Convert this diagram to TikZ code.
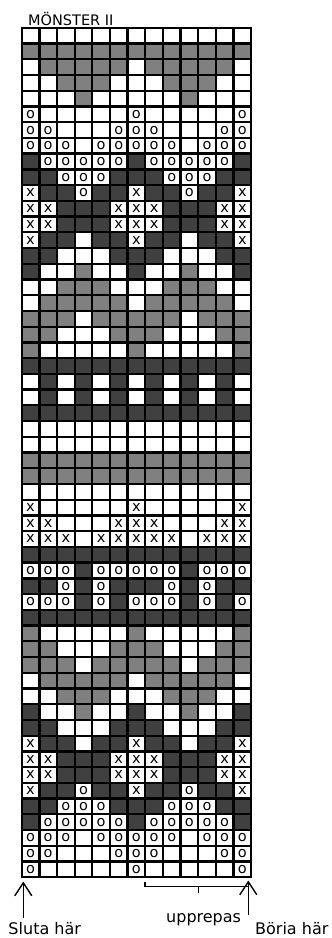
\documentclass[tikz,border=0pt]{standalone}
\usepackage{fontspec}
\setmainfont{DejaVu Sans}
\usepackage{xstring}
\usetikzlibrary{arrows.meta}
\definecolor{cW}{HTML}{FFFFFF}
\definecolor{co}{HTML}{FFFFFF}
\definecolor{cx}{HTML}{FFFFFF}
\definecolor{cG}{HTML}{808080}
\definecolor{cD}{HTML}{404040}
\def\mkW{}\def\mkG{}\def\mkD{}\def\mko{o}\def\mkx{x}
\tikzset{
  cell/.style={draw=black, line width=2.3pt, minimum width=17.65pt, minimum height=15.73pt,
    inner sep=0pt, outer sep=0pt, font=\fontsize{14.5}{14.5}\selectfont, text=black},
  uparrow/.style={line width=1.4pt, -{Straight Barb[length=13pt,width=17pt]}},
  bracket/.style={line width=1.4pt},
  lbl/.style={font=\fontsize{16}{16}\selectfont, inner sep=0pt, anchor=base west},
  titlelbl/.style={font=\fontsize{14.5}{14.5}\selectfont, inner sep=0pt, anchor=base west}
}
\begin{document}
\begin{tikzpicture}[x=1pt,y=-1pt]
\useasboundingbox (0,0) rectangle (332,938);
\fill[white] (0,0) rectangle (332,938);
\node[titlelbl] (title) at (28,25) {MÖNSTER II};
\foreach \rowstr [count=\j] in {%
WWWWWWWWWWWWW,
GGGGGGGGGGGGG,
WGGGGGWGGGGGW,
WWGGGWWWGGGWW,
WWWGWWWWWGWWW,
oWWWWWoWWWWWo,
ooWWWoooWWWoo,
oooWoooooWooo,
DoooooDoooooD,
DDoooDDDoooDD,
xDDoDDxDDoDDx,
xxDDDxxxDDDxx,
xxDDDxxxDDDxx,
xDDWDDxDDWDDx,
DDWWWDDDWWWDD,
DWWGWWDWWGWWD,
WWGGGWWWGGGWW,
WGGGGGWGGGGGW,
GGGWGGGGGWGGG,
GGWWWGGGWWWGG,
GWWWWWGWWWWWG,
DDDDDDDDDDDDD,
WDWDWDWDWDWDW,
WDWDWDWDWDWDW,
DDDDDDDDDDDDD,
WWWWWWWWWWWWW,
WWWWWWWWWWWWW,
GGGGGGGGGGGGG,
GGGGGGGGGGGGG,
WWWWWWWWWWWWW,
xWWWWWxWWWWWx,
xxWWWxxxWWWxx,
xxxWxxxxxWxxx,
DDDDDDDDDDDDD,
oooDoooooDooo,
DDoDoDDDoDoDD,
oooDoDoooDoDo,
DDDDDDDDDDDDD,
GWWWWWGWWWWWG,
GGWWWGGGWWWGG,
GGGWGGGGGWGGG,
WGGGGGWGGGGGW,
WWGGGWWWGGGWW,
DWWGWWDWWGWWD,
DDWWWDDDWWWDD,
xDDWDDxDDWDDx,
xxDDDxxxDDDxx,
xxDDDxxxDDDxx,
xDDoDDxDDoDDx,
DDoooDDDoooDD,
DoooooDoooooD,
oooWoooooWooo,
ooWWWoooWWWoo,
oWWWWWoWWWWWo%
} {
  \foreach \i in {1,...,13} {
    \StrChar{\rowstr}{\i}[\cellch]
    \node[cell, fill=c\cellch] (c-\i-\j) at ({21.7+(\i-0.5)*17.65},{27.8+(\j-0.5)*15.73}) {\csname mk\cellch\endcsname};
  }
}
% arrows
\coordinate (slutafoot) at (23.3,918);
\coordinate (slutatip) at (23.3,881.5);
\draw[uparrow] (slutafoot) -- (slutatip);
\coordinate (boriafoot) at (248.3,915);
\coordinate (boriatip) at (248.3,880.5);
\draw[uparrow] (boriafoot) -- (boriatip);
% bracket
\coordinate (brL) at (145,881.7);
\coordinate (brLb) at (145,886.7);
\coordinate (brR) at (248.3,886.7);
\coordinate (brM) at (198.3,886.7);
\coordinate (brMt) at (198.3,893.3);
\draw[bracket] (brL) -- (brLb) -- (brR);
\draw[bracket] (brM) -- (brMt);
% labels
\node[lbl] (sluta) at (8.3,934) {Sluta här};
\node[lbl] (upp) at (166,922.5) {upprepas};
\node[lbl] (boria) at (255,934) {Böria här};
\end{tikzpicture}
\end{document}
